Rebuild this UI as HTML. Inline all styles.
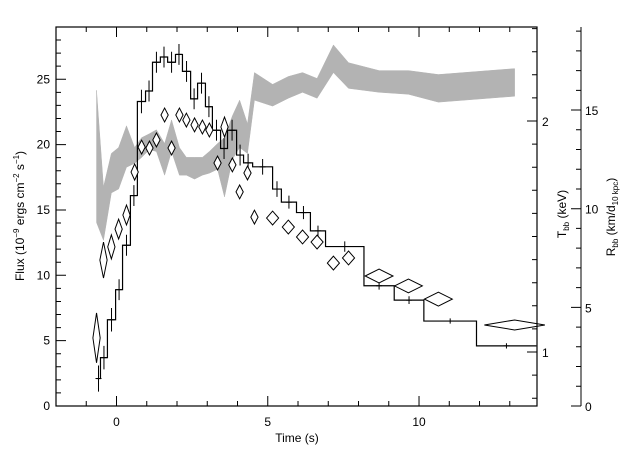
<!DOCTYPE html>
<html><head><meta charset="utf-8"><style>
html,body{margin:0;padding:0;background:#fff;}
svg{display:block;font-family:"Liberation Sans",sans-serif;}
</style></head><body>
<svg id="chart" width="640" height="457" viewBox="0 0 640 457" xmlns="http://www.w3.org/2000/svg">
<rect width="640" height="457" fill="#fff"/>
<g id="band"></g>
<g id="hist"></g>
<g id="diam"></g>
<g id="axes"></g>
<text x="297" y="442" font-size="12" text-anchor="middle">Time (s)</text>
<text transform="translate(24,216) rotate(-90)" font-size="12" text-anchor="middle">Flux (10<tspan dy="-5" font-size="8">−9</tspan><tspan dy="5"> ergs cm</tspan><tspan dy="-5" font-size="8">−2</tspan><tspan dy="5"> s</tspan><tspan dy="-5" font-size="8">−1</tspan><tspan dy="5">)</tspan></text>
<text transform="translate(566,214) rotate(-90)" font-size="12" text-anchor="middle">T<tspan dy="3" font-size="8">bb</tspan><tspan dy="-3"> (keV)</tspan></text>
<text transform="translate(615,217) rotate(-90)" font-size="12" text-anchor="middle">R<tspan dy="3" font-size="8">bb</tspan><tspan dy="-3"> (km/d</tspan><tspan dy="3" font-size="8">10 kpc</tspan><tspan dy="-3">)</tspan></text>
</svg>
<script>
const edges=[-0.66,-0.53,-0.30,-0.03,0.20,0.46,0.69,0.96,1.19,1.45,1.69,1.95,2.18,2.45,2.68,2.94,3.17,3.44,3.67,3.97,4.20,4.50,5.16,5.45,5.95,6.41,6.91,8.18,9.18,10.16,11.90,13.88];
const flux=[2.1,3.7,6.6,8.9,12.3,16.1,23.3,24.1,26.3,26.7,26.3,26.9,25.6,23.5,24.7,22.9,21.1,19.7,21.1,19.2,18.6,18.3,16.6,15.6,14.8,13.4,12.2,9.2,8.1,6.5,4.6];
const fluxErr=[1.0,0.9,0.9,0.8,0.8,0.8,0.9,0.8,0.8,0.8,0.8,0.8,0.8,0.8,0.8,0.8,0.8,0.8,0.8,0.8,0.7,0.6,0.6,0.5,0.5,0.4,0.4,0.3,0.3,0.2,0.2];
const tT=[-0.66,-0.43,-0.17,0.07,0.33,0.60,0.83,1.09,1.32,1.59,1.82,2.08,2.31,2.58,2.84,3.07,3.34,3.57,3.83,4.07,4.33,4.56,5.16,5.68,6.15,6.63,7.17,7.67,8.68,9.65,10.64,13.16];
const temp=[1.061,1.398,1.455,1.532,1.593,1.779,1.887,1.883,1.918,2.026,1.883,2.026,2.004,1.983,1.974,1.961,1.818,1.974,1.810,1.693,1.775,1.584,1.580,1.541,1.498,1.476,1.385,1.407,1.329,1.286,1.229,1.117];
const tempErr=[0.108,0.078,0.052,0.043,0.043,0.035,0.03,0.03,0.03,0.03,0.03,0.03,0.03,0.03,0.03,0.03,0.03,0.043,0.03,0.03,0.03,0.03,0.03,0.03,0.03,0.03,0.03,0.03,0.03,0.03,0.03,0.02];
const tHalf=[0.12,0.12,0.12,0.12,0.12,0.12,0.12,0.12,0.12,0.12,0.12,0.12,0.12,0.12,0.12,0.12,0.12,0.12,0.12,0.12,0.12,0.12,0.2,0.2,0.2,0.2,0.2,0.2,0.46,0.46,0.46,1.0];
const rLow=[9.3,8.4,10.8,11.0,12.1,12.3,12.6,13.0,12.9,11.7,12.9,11.7,11.7,11.5,11.7,11.8,12.0,10.6,12.5,13.1,12.8,15.5,15.2,15.6,15.9,15.6,16.9,16.1,15.9,15.8,15.4,15.7];
const rHigh=[16.0,11.1,12.8,13.1,14.2,13.1,13.6,13.8,14.0,13.3,14.5,13.1,12.6,12.6,12.6,12.9,13.3,13.6,14.7,15.5,14.3,16.9,16.3,16.7,16.9,16.6,18.3,17.4,17.0,17.0,16.8,17.1];
const xTicks=[0,5,10];
const yTicks=[0,5,10,15,20,25];
const tTicks=[1,2];
const rTicks=[0,5,10,15];

const NS="http://www.w3.org/2000/svg";
const L=56,R=537,T=27,B=406,RX=581;
const X=t=>L+(t+2)*(R-L)/15.9;
const Y=f=>B-f*13.07;
const YT=k=>352-(k-1)*231;
const YR=r=>B-r*19.73;
function mk(par,tag,at){const e=document.createElementNS(NS,tag);for(const k in at)e.setAttribute(k,at[k]);par.appendChild(e);return e;}

// band
const band=document.getElementById('band');
let pts=tT.map((t,i)=>X(t)+','+YR(rHigh[i]));
pts=pts.concat(tT.map((t,i)=>X(t)+','+YR(rLow[i])).reverse());
const poly=mk(band,'polygon',{points:pts.join(' '),fill:'#b3b3b3',stroke:'#b3b3b3','stroke-width':'0.5'});



// histogram
const hist=document.getElementById('hist');
let d='M'+X(edges[0])+' '+Y(flux[0]);
for(let i=0;i<flux.length;i++){d+=' L'+X(edges[i])+' '+Y(flux[i])+' L'+X(edges[i+1])+' '+Y(flux[i]);}
const hp=mk(hist,'path',{d:d,fill:'none',stroke:'#000','stroke-width':'1.2'});


for(let i=0;i<flux.length;i++){
  const c=(edges[i]+edges[i+1])/2;
  const g=mk(hist,'path',{d:'M'+X(c)+' '+Y(flux[i]-fluxErr[i])+' V'+Y(flux[i]+fluxErr[i])+' M'+(X(c)-3)+' '+Y(flux[i])+' H'+(X(c)+3),stroke:'#000','stroke-width':'1',fill:'none'});
  
  
}
// diamonds
const diam=document.getElementById('diam');
for(let i=0;i<tT.length;i++){
  const cx=X(tT[i]),cy=YT(temp[i]),hw=Math.max(3.5,tHalf[i]*30.25),hh=Math.max(5,tempErr[i]*231);
  const p=mk(diam,'polygon',{points:(cx-hw)+','+cy+' '+cx+','+(cy-hh)+' '+(cx+hw)+','+cy+' '+cx+','+(cy+hh),fill:'#fff',stroke:'#000','stroke-width':'1'});
  
  
}
// axes
const ax=document.getElementById('axes');
const fr=mk(ax,'rect',{x:L,y:T,width:R-L,height:B-T,fill:'none',stroke:'#000','stroke-width':'1.2'});


let td='';
for(let t=-1;t<=13;t++){const maj=xTicks.includes(t);const x=X(t);const l=maj?10:5;td+='M'+x+' '+B+' v'+(-l)+' M'+x+' '+T+' v'+l+' ';}
for(let f=1;f<=28;f++){const maj=yTicks.includes(f);td+='M'+L+' '+Y(f)+' h'+(maj?10:5)+' ';}
for(let k=8;k<=24;k++){const v=k/10;const maj=tTicks.includes(v);td+='M'+R+' '+YT(v)+' h'+(maj?-10:-5)+' ';}
td+='M'+RX+' '+B+' V'+T+' ';
for(let r=0;r<=19;r++){const maj=rTicks.includes(r);td+='M'+RX+' '+YR(r)+' h'+(maj?-10:-5)+' ';}
const tk=mk(ax,'path',{d:td,stroke:'#000','stroke-width':'1',fill:'none'});


xTicks.forEach(t=>{const e=mk(ax,'text',{x:X(t),y:B+20,'font-size':'12','text-anchor':'middle'});e.textContent=t;

});
yTicks.forEach(f=>{const e=mk(ax,'text',{x:L-6,y:Y(f)+4,'font-size':'12','text-anchor':'end'});e.textContent=f;

});
tTicks.forEach(k=>{const e=mk(ax,'text',{x:R+5,y:YT(k)+5,'font-size':'12'});e.textContent=k;

});
rTicks.forEach(r=>{const e=mk(ax,'text',{x:RX+4,y:YR(r)+5,'font-size':'12'});e.textContent=r;

});
</script>
</body></html>
